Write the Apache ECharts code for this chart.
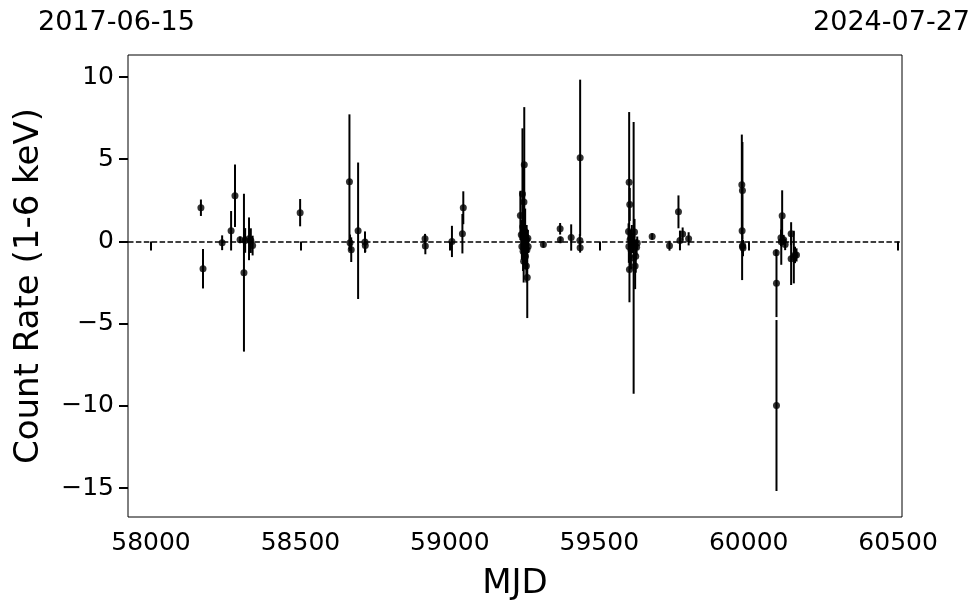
<!DOCTYPE html>
<html><head><meta charset="utf-8">
<script src="https://cdn.jsdelivr.net/npm/echarts@6/dist/echarts.min.js"></script>
<style>html,body{margin:0;padding:0;background:#fff}#c{width:980px;height:613px}</style>
</head><body><div id="c"></div>
<script>
const mjd = [
  58167, 58174, 58238, 58268, 58281, 58298, 58311, 58315, 58328, 58334, 58340,
  58499, 58664, 58666, 58670, 58693, 58716, 58717,
  58917, 58918, 59007, 59042, 59045,
  59236, 59239, 59241, 59243, 59244, 59245, 59246, 59247, 59248, 59249, 59250,
  59251, 59252, 59253, 59254, 59255, 59256, 59257, 59258, 59259, 59261, 59262,
  59313, 59369, 59370, 59406, 59436, 59435, 59436,
  59598, 59599, 59600, 59601, 59602, 59603, 59606, 59609, 59612, 59615, 59618,
  59620, 59622, 59625, 59627,
  59677, 59735, 59765, 59770, 59779, 59799,
  59977, 59979, 59978, 59979, 59981, 59980,
  60092, 60093, 60093, 60109, 60112, 60108, 60117, 60122, 60142, 60142, 60151,
  60155, 60160
];
const rate = [
  2.05, -1.66, -0.08, 0.65, 2.78, 0.10, -1.90, 0.06, 0.16, 0.05, -0.25,
  1.75, 3.63, -0.08, -0.50, 0.65, -0.04, -0.25,
  0.16, -0.28, 0.00, 0.47, 2.05,
  1.58, 0.40, -0.30, 2.88, 0.90, -0.60, 0.20, -1.20, 2.40, 4.67, 0.00,
  -0.40, 0.60, -0.90, 0.30, -0.20, -1.50, 0.10, -0.50, -2.19, 0.20, -0.30,
  -0.18, 0.77, 0.10, 0.24, 5.09, 0.05, -0.38,
  0.60, -0.30, 3.60, -1.70, 2.25, 0.10, -0.50, 0.30, -0.20, -1.00, 0.57,
  -1.50, -0.90, -0.35, -0.10,
  0.30, -0.26, 1.80, 0.06, 0.45, 0.16,
  3.45, 3.10, 0.65, -0.30, -0.40, -0.25,
  -0.69, -2.55, -9.98, -0.02, 1.56, 0.22, 0.10, -0.18, 0.47, -1.05, -0.95,
  -0.82, -0.82
];
const err = [
  0.50, 1.20, 0.45, 1.20, 1.90, 0.20, 4.80, 0.75, 1.30, 0.75, 0.60,
  0.83, 4.10, 0.50, 0.75, 4.15, 0.65, 0.40,
  0.30, 0.50, 0.95, 1.20, 1.00,
  1.50, 0.90, 0.80, 4.00, 2.00, 1.20, 0.60, 1.30, 2.30, 3.50, 0.50,
  1.00, 1.40, 0.80, 0.50, 0.70, 1.00, 0.90, 0.60, 2.47, 0.50, 0.40,
  0.20, 0.35, 0.20, 0.80, 4.75, 0.40, 0.30,
  0.50, 1.00, 4.27, 2.00, 1.00, 0.60, 1.20, 0.70, 0.50, 8.26, 0.80,
  1.40, 1.00, 0.50, 0.40,
  0.20, 0.30, 1.00, 0.60, 0.40, 0.40,
  3.05, 2.95, 3.00, 0.40, 0.50, 0.30,
  0.20, 2.05, 5.20, 1.40, 1.55, 0.50, 0.30, 0.35, 0.70, 1.60, 1.60,
  0.50, 0.40
];
const xTicks = [58000, 58500, 59000, 59500, 60000, 60500];
const yTicks = [-15, -10, -5, 0, 5, 10];
const dateLabels = ['2017-06-15', '2024-07-27'];
const xName = 'MJD';
const yName = 'Count Rate (1-6 keV)';

const FONT = 'DejaVu Sans';
const chart = echarts.init(document.getElementById('c'), null, {renderer: 'canvas'});
const points = mjd.map((m, i) => [m, rate[i]]);
const bars = mjd.map((m, i) => [m, rate[i] - err[i], rate[i] + err[i]]);
const fmt = v => (v < 0 ? '\u2212' + Math.abs(v) : String(v));

chart.setOption({
  animation: false,
  backgroundColor: '#fff',
  grid: {left: 128, right: 78, top: 55, bottom: 96, show: true, borderColor: '#000', borderWidth: 1, backgroundColor: 'transparent'},
  graphic: [
    {type: 'text', left: 38, top: 9, style: {text: dateLabels[0], font: '27px "DejaVu Sans"', fill: '#000'}},
    {type: 'text', right: 10, top: 9, style: {text: dateLabels[1], font: '27px "DejaVu Sans"', fill: '#000'}}
  ],
  xAxis: {
    type: 'value', min: 57923, max: 60513,
    name: xName, nameLocation: 'middle', nameGap: 50,
    nameTextStyle: {fontFamily: FONT, fontSize: 34, color: '#000'},
    axisLine: {show: false},
    axisTick: {show: true, customValues: xTicks, length: 9, lineStyle: {color: '#000', width: 2}},
    axisLabel: {customValues: xTicks, fontFamily: FONT, fontSize: 25, color: '#000', margin: 14, formatter: v => String(v)},
    splitLine: {show: false}
  },
  yAxis: {
    type: 'value', min: -16.76, max: 11.34,
    name: yName, nameLocation: 'middle', nameGap: 82,
    nameTextStyle: {fontFamily: FONT, fontSize: 34, color: '#000'},
    axisLine: {show: false},
    axisTick: {show: true, customValues: yTicks, length: 9, lineStyle: {color: '#000', width: 2}},
    axisLabel: {customValues: yTicks, fontFamily: FONT, fontSize: 25, color: '#000', margin: 14, formatter: fmt},
    splitLine: {show: false}
  },
  series: [
    {
      type: 'custom',
      data: bars,
      encode: {x: 0, y: [1, 2]},
      renderItem: (params, api) => {
        const a = api.coord([api.value(0), api.value(1)]);
        const b = api.coord([api.value(0), api.value(2)]);
        return {type: 'line', shape: {x1: a[0], y1: a[1], x2: b[0], y2: b[1]}, style: {stroke: '#000', lineWidth: 2}};
      },
      z: 2
    },
    {
      type: 'scatter',
      data: points,
      symbol: 'circle',
      symbolSize: 7,
      itemStyle: {color: '#000'},
      z: 3,
      markLine: {
        silent: true, symbol: 'none', label: {show: false},
        lineStyle: {color: '#000', type: [5.5, 2.4], width: 1.5},
        data: [{yAxis: 0}]
      }
    }
  ]
});
</script>
</body></html>
